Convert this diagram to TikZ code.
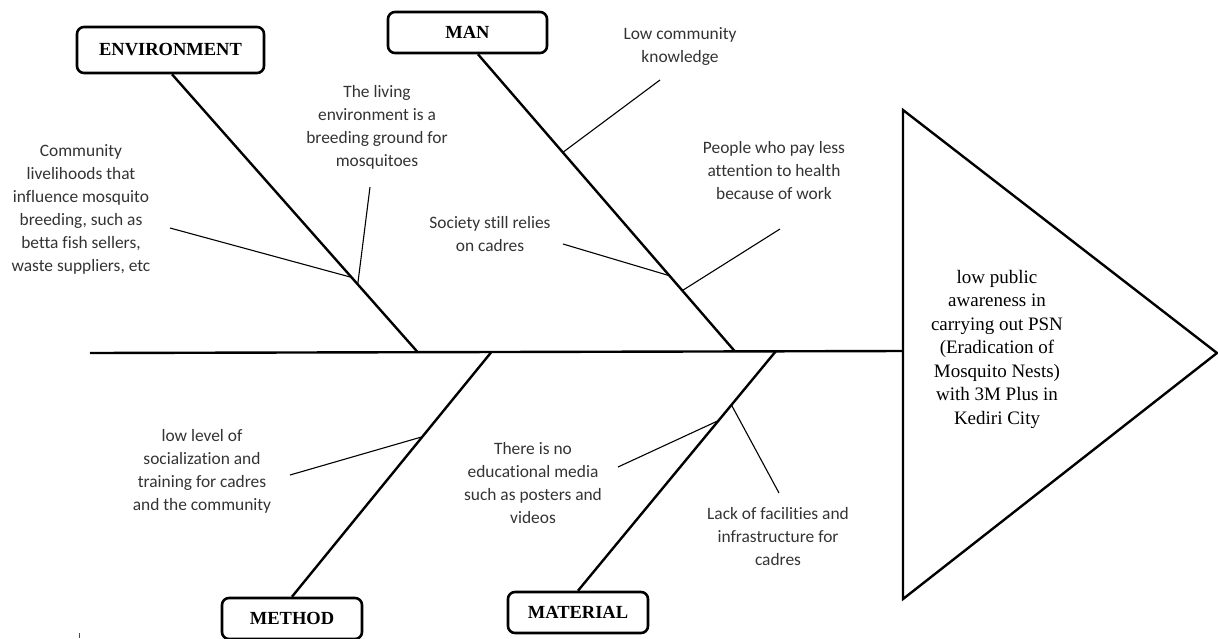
\documentclass[tikz,border=0pt]{standalone}
\usepackage{fontspec}
\setmainfont{Liberation Serif}
\newfontfamily\calibri[Ligatures={NoCommon}]{Carlito}
\usetikzlibrary{positioning}

\begin{document}
\begin{tikzpicture}[
  x=1pt, y=-1pt,
  category/.style={rectangle, draw, line width=2.6pt, rounded corners=7pt, inner sep=0pt,
    font=\fontsize{18.5}{20}\selectfont\bfseries},
  cause/.style={align=center, inner sep=0pt, text=black!80,
    font=\calibri\fontsize{17.4}{23}\selectfont},
  effecttext/.style={align=center, inner sep=0pt,
    font=\fontsize{19}{23.5}\selectfont},
  bone/.style={line width=2.4pt},
  twig/.style={line width=1.1pt}
]
\useasboundingbox (0,0) rectangle (1218,638);

% Head of the fish
\coordinate (headtop) at (903,110);
\coordinate (headtip) at (1217,353);
\coordinate (headbot) at (903,599);
\draw[bone, line join=miter] (headtop) -- (headtip) -- (headbot) -- cycle;
\node[effecttext] (effect) at (997,349) {low public\\awareness in\\carrying out PSN\\(Eradication of\\Mosquito Nests)\\with 3M Plus in\\Kediri City};

% Spine
\coordinate (tail) at (90,353);
\coordinate (neck) at (903,351);
\draw[bone] (tail) -- (neck);

% Categories
\node[category, minimum width=187, minimum height=46] (envbox) at (170.5,50) {ENVIRONMENT};
\node[category, minimum width=159, minimum height=41] (manbox) at (467.5,32.5) {MAN};
\node[category, minimum width=140, minimum height=41] (methodbox) at (292,618.5) {METHOD};
\node[category, minimum width=140, minimum height=41] (materialbox) at (578,612.5) {MATERIAL};

% Main bones
\coordinate (envjoin) at (418,352.5);
\coordinate (manjoin) at (735,351.5);
\coordinate (methodjoin) at (491,352.5);
\coordinate (materialjoin) at (776,351);
\draw[bone] ([xshift=1.5pt]envbox.south) -- (envjoin)
  coordinate[pos=0.73] (env1) coordinate[pos=0.755] (env2);
\draw[bone] ([xshift=10.5pt]manbox.south) -- (manjoin)
  coordinate[pos=0.33] (man1) coordinate[pos=0.745] (man2) coordinate[pos=0.795] (man3);
\draw[bone] (methodjoin) -- (methodbox.north)
  coordinate[pos=0.345] (method1);
\draw[bone] (materialjoin) -- (materialbox.north)
  coordinate[pos=0.29] (material1) coordinate[pos=0.225] (material2);

% Environment causes
\node[cause] (livelihood) at (81,209.5) {Community\\livelihoods that\\influence mosquito\\breeding, such as\\betta fish sellers,\\waste suppliers, etc};
\node[cause] (living) at (377,127.5) {The living\\environment is a\\breeding ground for\\mosquitoes};
\coordinate (livelihoodend) at (170,228);
\coordinate (livingend) at (370,187);
\draw[twig] (livelihoodend) -- (env1);
\draw[twig] (livingend) -- (env2);

% Man causes
\node[cause] (knowledge) at (680,47) {Low community\\knowledge};
\node[cause] (cadres) at (490,234.5) {Society still relies\\on cadres};
\node[cause] (work) at (774,170.5) {People who pay less\\attention to health\\because of work};
\coordinate (knowledgeend) at (660,80);
\coordinate (cadresend) at (563,244);
\coordinate (workend) at (780,229);
\draw[twig] (knowledgeend) -- (man1);
\draw[twig] (cadresend) -- (man2);
\draw[twig] (workend) -- (man3);

% Method causes
\node[cause] (training) at (202,471.5) {low level of\\socialization and\\training for cadres\\and the community};
\coordinate (trainingend) at (290,475);
\draw[twig] (trainingend) -- (method1);

% Material causes
\node[cause] (media) at (533,483) {There is no\\educational media\\such as posters and\\videos};
\node[cause] (facilities) at (778,536.5) {Lack of facilities and\\infrastructure for\\cadres};
\coordinate (mediaend) at (618,467);
\coordinate (facilitiesend) at (779,493);
\draw[twig] (mediaend) -- (material1);
\draw[twig] (facilitiesend) -- (material2);

% stray tick
\coordinate (ticktop) at (79,633);
\coordinate (tickbot) at (79,638);
\draw[line width=1pt, black!70] (ticktop) -- (tickbot);

\end{tikzpicture}
\end{document}
